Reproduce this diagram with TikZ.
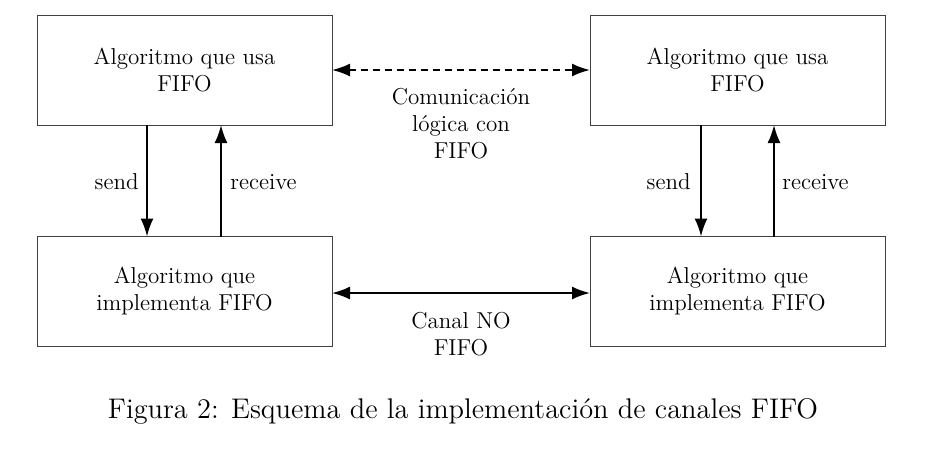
\documentclass[tikz,border=0pt]{standalone}
\usetikzlibrary{arrows.meta}
\begin{document}
\begin{tikzpicture}[x=0.5pt,y=-0.5pt,
  box/.style={draw=black!75,line width=0.5pt,minimum width=147.5pt,minimum height=55pt,inner sep=0pt,outer sep=0pt,align=center,font=\fontsize{11.5}{13.5}\selectfont},
  lbl/.style={inner sep=0pt,align=center,font=\fontsize{11.5}{13.5}\selectfont},
  arr/.style={line width=1pt,-{Latex[length=9pt,width=6.5pt]}},
  darr/.style={line width=1pt,{Latex[length=9pt,width=6.5pt]}-{Latex[length=9pt,width=6.5pt]}},
  capt/.style={inner sep=0pt,font=\fontsize{14.2}{16}\selectfont}]
\useasboundingbox (0,0) rectangle (936,452);
\node[box] (tl) at (184.5,70) {Algoritmo que usa\\FIFO};
\node[box] (tr) at (737.5,70) {Algoritmo que usa\\FIFO};
\node[box] (bl) at (184.5,291.5) {Algoritmo que\\implementa FIFO};
\node[box] (br) at (737.5,291.5) {Algoritmo que\\implementa FIFO};
\draw[darr,dash pattern=on 3.5pt off 2.5pt] (tl.east) -- (tr.west);
\draw[darr] ([yshift=-0.75pt]bl.east) -- ([yshift=-0.75pt]br.west);
\draw[arr] ([xshift=55pt]tl.south west) -- ([xshift=55pt]bl.north west);
\draw[arr] ([xshift=92pt]bl.north west) -- ([xshift=92pt]tl.south west);
\draw[arr] ([xshift=55.5pt]tr.south west) -- ([xshift=55.5pt]br.north west);
\draw[arr] ([xshift=92pt]br.north west) -- ([xshift=92pt]tr.south west);
\node[lbl,anchor=east] (s1) at (139,182) {send};
\node[lbl,anchor=west] (r1) at (230,182) {receive};
\node[lbl,anchor=east] (s2) at (691,182) {send};
\node[lbl,anchor=west] (r2) at (782,182) {receive};
\node[lbl] (com) at (461,124) {Comunicación\\lógica con\\FIFO};
\node[lbl] (can) at (461,334.5) {Canal NO\\FIFO};
\node[capt] (cap) at (463,411) {Figura 2: Esquema de la implementación de canales FIFO};
\end{tikzpicture}
\end{document}
